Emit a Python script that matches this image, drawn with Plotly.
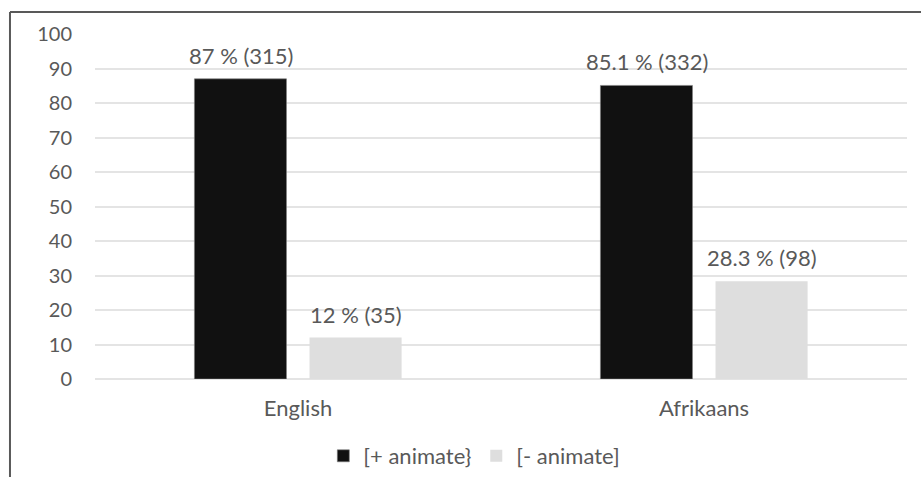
import plotly.graph_objects as go

languages = ["English", "Afrikaans"]
animate_pos_pct = [87, 85.1]
animate_pos_n = [315, 332]
animate_neg_pct = [12, 28.3]
animate_neg_n = [35, 98]
y_ticks = list(range(0, 101, 10))

FONT = "Lato"
TEXT = "#595959"


def labels(pcts, ns):
    return [f"{p:g} % ({n})" for p, n in zip(pcts, ns)]


fig = go.Figure()
fig.add_trace(go.Bar(
    x=languages, y=animate_pos_pct, name="[+ animate}",
    marker=dict(color="#111111", line=dict(color="#7f7f7f", width=0.6)),
    offsetgroup="pos",
))
fig.add_trace(go.Bar(
    x=languages, y=animate_neg_pct, name="[- animate]",
    marker=dict(color="#dedede", line=dict(width=0)),
    offsetgroup="neg",
))

# value labels above each bar, positioned from the bar values
annotations = []
for pcts, ns, shift in ((animate_pos_pct, animate_pos_n, -57),
                        (animate_neg_pct, animate_neg_n, 58)):
    for lang, p, txt in zip(languages, pcts, labels(pcts, ns)):
        annotations.append(dict(
            x=lang, y=p, xref="x", yref="y", text=txt, showarrow=False,
            xshift=shift, yanchor="bottom", yshift=8,
            font=dict(family=FONT, size=22, color=TEXT),
        ))

fig.update_layout(
    width=921, height=477,
    margin=dict(l=95, r=14, t=34, b=98),
    paper_bgcolor="white", plot_bgcolor="white",
    barmode="group", bargap=0.433, bargroupgap=0.2,
    font=dict(family=FONT, size=20, color=TEXT),
    showlegend=True,
    annotations=annotations,
    legend=dict(orientation="h", xref="container", yref="container",
                x=0.515, xanchor="center", y=0.0, yanchor="bottom",
                font=dict(family=FONT, size=22, color=TEXT),
                itemwidth=30, traceorder="normal"),
    shapes=[
        dict(type="line", xref="paper", yref="paper", x0=-0.1047, x1=1.02,
             y0=1.0638, y1=1.0638, line=dict(color="#595959", width=2)),
        dict(type="line", xref="paper", yref="paper", x0=-0.1047, x1=-0.1047,
             y0=1.0638, y1=-0.3, line=dict(color="#595959", width=2)),
    ],
)
fig.update_xaxes(showgrid=False, showline=False, ticks="",
                 tickfont=dict(family=FONT, size=22, color=TEXT),
                 ticklabelstandoff=14)
fig.update_yaxes(range=[0, 100], tickvals=y_ticks, showgrid=True,
                 gridcolor="#e4e4e4", gridwidth=2, zeroline=True,
                 zerolinecolor="#e4e4e4", zerolinewidth=2, showline=False,
                 ticks="", tickfont=dict(family=FONT, size=20, color=TEXT),
                 ticklabelstandoff=22)

fig.write_html("out.html")
